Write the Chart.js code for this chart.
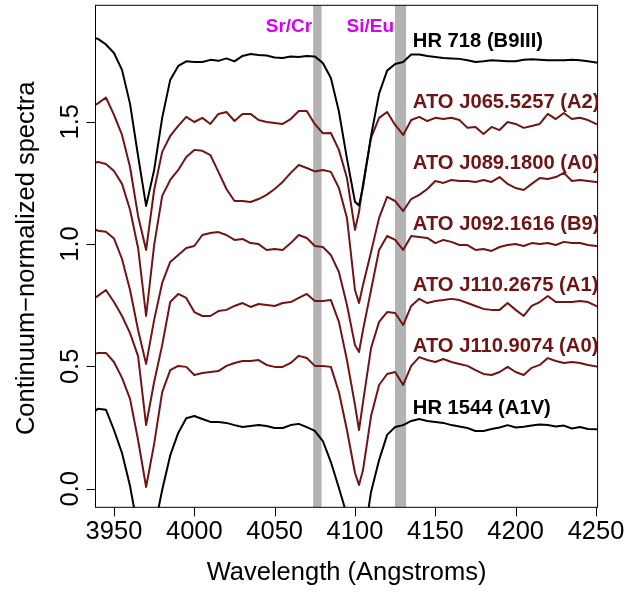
<!DOCTYPE html>
<html>
<head>
<meta charset="utf-8">
<script src="https://cdn.jsdelivr.net/npm/chart.js@4.4.1/dist/chart.umd.min.js"></script>
<style>
  html, body { margin: 0; padding: 0; background: #fff; }
  #spectra { display: block; }
</style>
</head>
<body>
<canvas id="spectra" width="632" height="592"></canvas>
<script>
// wavelength grid (Angstroms), shared by all spectra
const wavelength = [3935, 3940, 3945, 3950, 3955, 3960, 3965, 3970, 3975, 3980,
  3985, 3990, 3995, 4000, 4005, 4010, 4015, 4020, 4025, 4030,
  4035, 4040, 4045, 4050, 4055, 4060, 4065, 4070, 4075, 4080,
  4085, 4090, 4095, 4100, 4102.5, 4105, 4110, 4115, 4120, 4125,
  4130, 4135, 4140, 4145, 4150, 4155, 4160, 4165, 4170, 4175,
  4180, 4185, 4190, 4195, 4200, 4205, 4210, 4215, 4220, 4225,
  4230, 4235, 4240, 4245, 4250, 4255];

// normalized flux, each spectrum already shifted by 0.25
const hr718 = [1.845, 1.839, 1.816, 1.781, 1.712, 1.573, 1.360, 1.156, 1.303, 1.516,
  1.671, 1.728, 1.747, 1.744, 1.744, 1.753, 1.749, 1.759, 1.747, 1.769,
  1.777, 1.773, 1.771, 1.763, 1.761, 1.767, 1.765, 1.769, 1.767, 1.740,
  1.679, 1.542, 1.349, 1.173, 1.158, 1.233, 1.442, 1.615, 1.709, 1.736,
  1.744, 1.775, 1.775, 1.769, 1.765, 1.761, 1.759, 1.757, 1.751, 1.744,
  1.747, 1.751, 1.749, 1.747, 1.747, 1.753, 1.755, 1.753, 1.751, 1.751,
  1.751, 1.753, 1.751, 1.747, 1.742, 1.742];

const j065 = [1.556, 1.575, 1.599, 1.528, 1.446, 1.315, 1.115, 0.976, 1.221, 1.377,
  1.442, 1.483, 1.520, 1.499, 1.516, 1.491, 1.532, 1.540, 1.503, 1.532,
  1.532, 1.507, 1.499, 1.495, 1.491, 1.511, 1.544, 1.544, 1.490, 1.453,
  1.454, 1.385, 1.270, 1.058, 1.131, 1.246, 1.434, 1.516, 1.540, 1.487,
  1.446, 1.507, 1.520, 1.503, 1.516, 1.511, 1.516, 1.507, 1.475, 1.479,
  1.450, 1.479, 1.466, 1.499, 1.491, 1.475, 1.483, 1.491, 1.532, 1.511,
  1.536, 1.511, 1.516, 1.507, 1.491, 1.487];

const j089 = [1.323, 1.336, 1.327, 1.299, 1.246, 1.140, 0.984, 0.706, 0.996, 1.197,
  1.262, 1.303, 1.356, 1.385, 1.381, 1.364, 1.295, 1.225, 1.176, 1.176,
  1.172, 1.184, 1.201, 1.225, 1.254, 1.291, 1.323, 1.311, 1.297, 1.303,
  1.295, 1.229, 1.107, 0.812, 0.759, 0.833, 0.968, 1.107, 1.193, 1.176,
  1.135, 1.184, 1.201, 1.225, 1.258, 1.250, 1.262, 1.258, 1.258, 1.254,
  1.262, 1.254, 1.274, 1.246, 1.229, 1.221, 1.246, 1.270, 1.266, 1.274,
  1.291, 1.258, 1.262, 1.258, 1.254, 1.250];

const j092 = [1.074, 1.054, 1.050, 1.023, 0.939, 0.812, 0.649, 0.510, 0.690, 0.841,
  0.927, 0.955, 0.984, 0.992, 1.037, 1.045, 1.049, 1.037, 1.017, 1.021,
  1.004, 1.000, 0.976, 0.980, 0.976, 1.004, 1.037, 1.025, 0.992, 0.988,
  0.955, 0.886, 0.751, 0.587, 0.559, 0.649, 0.812, 0.976, 1.033, 1.017,
  0.976, 1.033, 1.029, 1.025, 1.004, 1.017, 1.009, 0.996, 0.996, 0.976,
  0.980, 0.972, 0.988, 0.996, 1.000, 0.992, 1.004, 1.000, 1.004, 0.996,
  1.009, 1.004, 1.004, 0.996, 0.992, 0.988];

const j1102 = [0.767, 0.788, 0.812, 0.763, 0.706, 0.636, 0.542, 0.260, 0.436, 0.587,
  0.763, 0.796, 0.780, 0.722, 0.706, 0.706, 0.726, 0.731, 0.747, 0.759,
  0.743, 0.755, 0.751, 0.747, 0.759, 0.763, 0.780, 0.796, 0.767, 0.767,
  0.771, 0.682, 0.526, 0.342, 0.240, 0.354, 0.575, 0.682, 0.722, 0.718,
  0.669, 0.747, 0.776, 0.759, 0.767, 0.771, 0.776, 0.771, 0.759, 0.747,
  0.735, 0.731, 0.731, 0.759, 0.731, 0.706, 0.747, 0.763, 0.788, 0.763,
  0.763, 0.763, 0.767, 0.763, 0.747, 0.739];

const j1109 = [0.543, 0.555, 0.555, 0.518, 0.453, 0.367, 0.199, 0.007, 0.183, 0.395,
  0.485, 0.502, 0.498, 0.465, 0.473, 0.477, 0.481, 0.502, 0.514, 0.522,
  0.522, 0.526, 0.506, 0.498, 0.498, 0.514, 0.543, 0.534, 0.502, 0.502,
  0.498, 0.395, 0.240, 0.064, 0.015, 0.076, 0.297, 0.424, 0.469, 0.477,
  0.424, 0.502, 0.538, 0.526, 0.518, 0.530, 0.518, 0.510, 0.502, 0.485,
  0.469, 0.465, 0.477, 0.498, 0.477, 0.465, 0.494, 0.506, 0.534, 0.522,
  0.514, 0.518, 0.514, 0.506, 0.500, 0.498];

const hr1544 = [0.300, 0.327, 0.323, 0.240, 0.146, 0.011, -0.169, -0.332, -0.169, -0.005,
  0.136, 0.228, 0.288, 0.297, 0.285, 0.273, 0.273, 0.269, 0.260, 0.252,
  0.256, 0.260, 0.256, 0.248, 0.248, 0.260, 0.265, 0.252, 0.236, 0.195,
  0.109, 0.003, -0.108, -0.291, -0.332, -0.230, -0.013, 0.117, 0.220, 0.252,
  0.260, 0.277, 0.285, 0.277, 0.273, 0.269, 0.260, 0.254, 0.248, 0.236,
  0.236, 0.244, 0.250, 0.260, 0.250, 0.253, 0.258, 0.262, 0.260, 0.254,
  0.258, 0.246, 0.252, 0.244, 0.243, 0.242];

const starNames = ["HR 718 (B9III)", "ATO J065.5257 (A2)", "ATO J089.1800 (A0)",
  "ATO J092.1616 (B9)", "ATO J110.2675 (A1)", "ATO J110.9074 (A0)", "HR 1544 (A1V)"];
const labelLevels = [1.807, 1.557, 1.307, 1.057, 0.807, 0.557, 0.307];
const labelStart = 4136.0;

const xTicks = [3950, 4000, 4050, 4100, 4150, 4200, 4250];
const yTicks = [0, 0.5, 1, 1.5];
const yTickLabels = ["0.0", "0.5", "1.0", "1.5"];

// line identifications marked with grey bands
const bandNames = ["Sr/Cr", "Si/Eu"];
const bandStart = [4074.0, 4124.9];
const bandEnd = [4079.2, 4131.8];

const FONT = '"Liberation Sans", Arial, Helvetica, sans-serif';
const DARK_RED = "#701515";
const MAGENTA = "#d400f8";

const fluxes = [hr718, j065, j089, j092, j1102, j1109, hr1544];
const colors = ["#000000", DARK_RED, DARK_RED, DARK_RED, DARK_RED, DARK_RED, "#000000"];

const datasets = fluxes.map((flux, k) => ({
  label: starNames[k],
  data: wavelength.map((w, i) => ({ x: w, y: flux[i] })),
  borderColor: colors[k],
  borderWidth: 2,
  pointRadius: 0,
  tension: 0,
  borderJoinStyle: "round",
  borderCapStyle: "round",
  clip: 0
}));

// bands, frame, axes and labels drawn in R base-graphics style
const framePlugin = {
  id: "frame",
  beforeDatasetsDraw(chart) {
    const { ctx, chartArea: a, scales: { x } } = chart;
    ctx.save();
    ctx.fillStyle = "#b3b3b3";
    for (let i = 0; i < bandStart.length; i++) {
      const x0 = x.getPixelForValue(bandStart[i]);
      const x1 = x.getPixelForValue(bandEnd[i]);
      ctx.fillRect(x0, a.top, x1 - x0, a.bottom - a.top);
    }
    ctx.restore();
  },
  afterDatasetsDraw(chart) {
    const { ctx, chartArea: a, scales: { x, y } } = chart;
    ctx.save();

    // plot box
    ctx.strokeStyle = "#000";
    ctx.lineWidth = 1;
    ctx.strokeRect(a.left, a.top, a.right - a.left, a.bottom - a.top);

    // tick marks
    ctx.beginPath();
    xTicks.forEach(v => {
      const px = Math.round(x.getPixelForValue(v)) + 0.5;
      ctx.moveTo(px, a.bottom);
      ctx.lineTo(px, a.bottom + 9);
    });
    yTicks.forEach(v => {
      const py = Math.round(y.getPixelForValue(v)) + 0.5;
      ctx.moveTo(a.left, py);
      ctx.lineTo(a.left - 9, py);
    });
    ctx.stroke();

    // tick labels
    ctx.fillStyle = "#000";
    ctx.font = "25.5px " + FONT;
    ctx.textAlign = "center";
    ctx.textBaseline = "alphabetic";
    xTicks.forEach(v => ctx.fillText(String(v), x.getPixelForValue(v), a.bottom + 32));
    yTicks.forEach((v, i) => {
      ctx.save();
      ctx.translate(a.left - 17.5, y.getPixelForValue(v));
      ctx.rotate(-Math.PI / 2);
      ctx.fillText(yTickLabels[i], 0, 0);
      ctx.restore();
    });

    // axis titles
    ctx.fillText("Wavelength (Angstroms)", (a.left + a.right) / 2, a.bottom + 73);
    ctx.save();
    ctx.translate(a.left - 61.5, (a.top + a.bottom) / 2 + 2);
    ctx.rotate(-Math.PI / 2);
    ctx.fillText("Continuum\u2212normalized spectra", 0, 0);
    ctx.restore();

    // labels inside the plot region are clipped to it
    ctx.beginPath();
    ctx.rect(a.left, a.top, a.right - a.left, a.bottom - a.top);
    ctx.clip();

    ctx.font = "bold 20.2px " + FONT;
    ctx.textAlign = "left";
    starNames.forEach((name, k) => {
      ctx.fillStyle = colors[k];
      ctx.fillText(name, x.getPixelForValue(labelStart), y.getPixelForValue(labelLevels[k]));
    });

    ctx.font = "bold 19px " + FONT;
    ctx.textAlign = "right";
    ctx.fillStyle = MAGENTA;
    bandNames.forEach((name, i) => {
      ctx.fillText(name, x.getPixelForValue(bandStart[i]) - 1, y.getPixelForValue(1.868));
    });

    ctx.restore();
  }
};

new Chart(document.getElementById("spectra"), {
  type: "line",
  data: { datasets },
  options: {
    responsive: false,
    animation: false,
    devicePixelRatio: 1,
    layout: { padding: { top: 5.3, right: 34.4, bottom: 0, left: 0 } },
    plugins: { legend: { display: false }, tooltip: { enabled: false } },
    scales: {
      x: {
        type: "linear",
        min: 3938.5,
        max: 4251,
        grid: { display: false },
        border: { display: false },
        ticks: { display: false },
        afterBuildTicks: s => { s.ticks = xTicks.map(v => ({ value: v })); },
        afterFit: s => { s.height = 84.7; }
      },
      y: {
        type: "linear",
        min: -0.076,
        max: 1.976,
        grid: { display: false },
        border: { display: false },
        ticks: { display: false },
        afterBuildTicks: s => { s.ticks = yTicks.map(v => ({ value: v })); },
        afterFit: s => { s.width = 95.5; }
      }
    }
  },
  plugins: [framePlugin]
});
</script>
</body>
</html>
